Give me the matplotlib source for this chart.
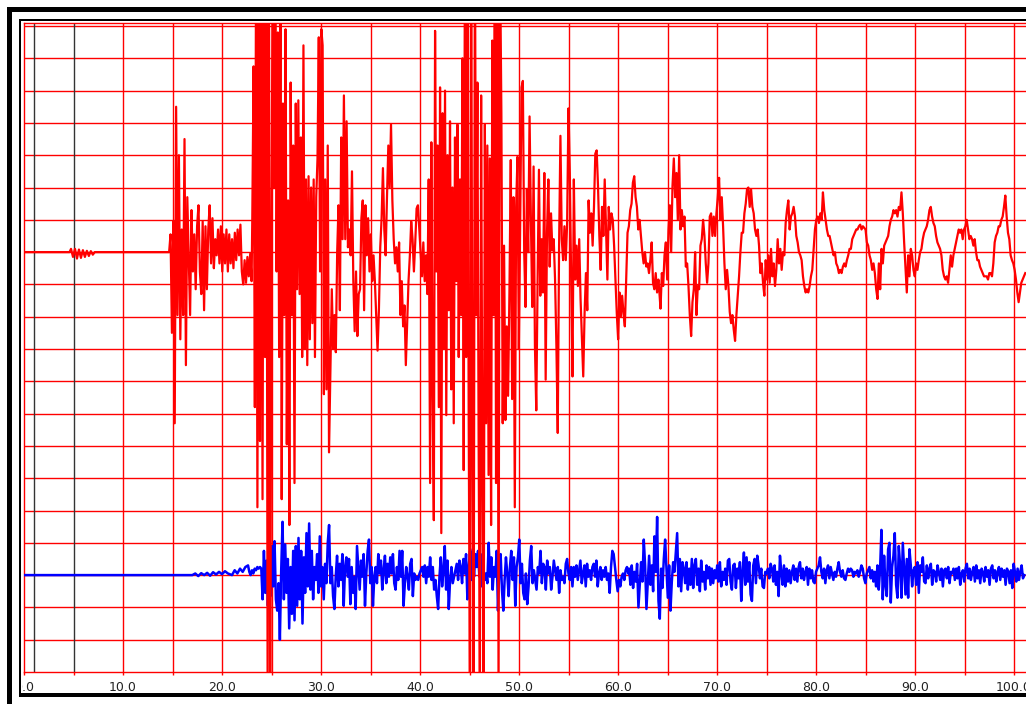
import numpy as np
import matplotlib
matplotlib.use("Agg")
import matplotlib.pyplot as plt
from matplotlib.patches import Rectangle
from matplotlib.ticker import FormatStrFormatter
from matplotlib.transforms import Bbox, TransformedBbox

W, H = 1026, 704

# Two seismograph channels, amplitudes in grid divisions around each baseline.
# Quiet lead-in given as (time, value) pairs, then evenly sampled blocks.
red_quiet_t = [0, 4.6, 4.75, 4.95, 5.15, 5.35, 5.55, 5.75, 5.95, 6.15, 6.35, 6.55, 6.75, 6.95, 7.15, 14.55]
red_quiet_v = [0, 0, .1, -.15, .1, -.2, .08, -.18, .06, -.15, .04, -.12, .03, -.08, 0, 0]

red_a = [0, .55, -2.5, .95, -5.3, 4.5, -1.95, 3.0, -2.7, .7,
         -1.95, 3.5, -3.5, 1.7, -.1, -1.95, 1.3, -.6, .55, -1.15,
         .8, 1.45, -.6, -1.3, .95, -1.8, .8, -1.15, .7, 1.45,
         -.35, 1.05, -.5, .4, -.1, .7, -.35, .8, -.6, .55,
         -.35, .7, -.6, .55, -.35, .4, -.5, .6, -.25, .7,
         -.1, .85, -.6, -1.0, -.25, -.95, -.15, -.75, -.05, -.9]
red_b = [1.05, 5.75, -4.8, 10, -7.9, 10, -5.85, 10, -7.65, 10,
         -3.25, 10, -14, 10, -14, -.1, 10, 2.0, 10, -.6,
         6.8, -3.25, 10, -7.65, 4.6, -1.95, 6.9, -5.95, 1.6, -8.45,
         5.25, -1.95, 3.3, -7.15, 4.6, -1.15, 4.7, -1.3, 3.55, -3.25,
         6.4, -3.0, 2.25, -3.5, 2.35, -2.7, 2.0, -2.2, 2.25, -3.25,
         1.7, 2.9, 6.65, -.6, 6.9, 6.4, -4.4, 2.25, -4.25, 3.3,
         -6.2]
red_c = [-1.15, -3.0, -1.95, -3.1, 0, 1.45, -1.8, 3.55, .4, 4.85,
         .4, 4.05, .15, .7, -.1, 2.5, -.9, -2.45, -.6, -2.6,
         -1.3, -1.15, 1.05, 1.6, -1.8, 1.45, -.1, 1.05, -.6, .55,
         -.9, -.1, -.9, -1.95, -3.05, -1.8, .15, 1.05, 2.6, .7,
         -.1, 1.7, 3.3, 2.0, 3.95, 1.6, .4, -.35, .15, -.6,
         .3, -1.95, -.9, -2.3, -1.65, -3.5, -2.2, -.9, -.1, .95,
         .4, -.6, .3, 1.35, 1.45, .7, -.1, -.75, .3, -.9,
         -.1, -1.3, 2.25]
red_d = [-7.15, 3.4, -4.25, -8.3, 6.85, -.6, 3.3, -4.8, 5.1, -8.7,
         4.3, -3.0, 5.0, -5.05, 3.0, -1.8, 4.05, -4.25, 2.0, -5.3,
         3.55, -.9, 3.95, -3.25, 2.25, -1.95, 6.0, -6.75, 10, -3.25,
         10, -5.05, -14, 10, -5.85, -14, 10, -1.95, 5.25, -5.85,
         -14, 4.85, -6.5, -14, 3.95, -5.3, 3.3, -6.9, 2.9, -8.45,
         6.55, -1.95, 10, -7.15, 10, -14, 10]
red_e = [4.3, -5.3, .2, -5.2, -2.3, -4.45, -1.25, 2.85, -4.55, 1.7,
         -7.9, 1.4, 2.95, -3.0, .8, 5.1, 5.3, 0, -1.7, 1.95,
         0, 4.2, 1.0, -1.7, 2.65, -2.9, -4.9, -.85, 2.55, -1.35,
         .4, -1.25, 2.45, -3.95, .6, 2.25, -.45, 1.2, .05, .4,
         -.85, -2.9, -5.6, .2, 3.6, .4, -.25, .8, -.25, .9,
         4.45, 2.45, -.85, -3.85, 2.25, -.85, .2, -1.05, .4, -1.45,
         -2.7, -3.85, -1.9, -.65, -1.8, 1.6, .6, 1.2, .2, 1.4,
         3.05, 3.15, 2.05, .5, -.55, 1.4, .5, 2.25, .7, -.85,
         1.4, .7, 1.2, 1.0, .2, -.85, -1.9, -2.7, -1.25, -2.0,
         -1.35, -1.9, -2.3, -.85, .6, .8, 1.3, 1.5, 2.15, 2.35,
         1.7, 1.4, .7, 1.0, .5, 0, -.35, 0, -.45, -.35,
         -.65, -.25, .3, -.95, -1.15, -.65, -1.25, -.85]
red_f = [-1.15, -1.75, -.65, -1.05, -.1, .3, -.85, .7, 1.45, 0,
         2.05, 2.9, 1.7, 2.45, 1.0, 3.0, .7, 1.3, .8, 1.1,
         -.45, -.35, -1.05, -1.95, -2.6, -1.55, -1.15, 0, -1.95, -1.05,
         -1.15, .2, .4, 1.0, .5, -.35, -.95, -.35, 1.1, 1.2,
         .5, 1.1, .5, 1.2, 1.7, 2.3, 1.0, 1.7, .8, -.35,
         -1.15, -.55, -1.05, -1.85, -2.2, -1.95, -2.4, -2.75, -1.95, -1.35,
         -.75, 0, .6, .6, 1.2, 1.5, 1.95, 2.0, 1.4, 1.95,
         1.4, 1.2, .7, .5, .7, .2, -.65, -.35, -.95, -1.35,
         -.25, -.85, -.1, -.95, .1, -.75, -.35, -1.05, -.55, .4,
         -.35, .1, -.55, 0, -.1, .9, 1.3, 1.6, .7, 1.1,
         1.2, 1.4, 1.1, .5, .3, 0, -.1, -.25, -.75, -1.05,
         -1.25, -1.15, -1.25, -1.05, -.75, -.55, .1, .7, 1.0, 1.1,
         .9, 1.2, 1.0, 1.85, 1.3, 1.0, .7, .5, .5, .3,
         .1, -.1, 0, -.35, -.45, -.65, -.55, -.65, -.45, -.35,
         -.45, -.25, -.1, .1, .1, .4, .5, .6, .7, .7,
         .8, .85, .7, .8, .75, .7, .3, .2, -.1, -.25,
         -.55, -.35, -.65, -1.15, -1.45, -.35, -1.15, .1, -.35, .2,
         .3, .4, .5, .8, 1.0, 1.1, 1.3, 1.2, 1.3, 1.1,
         1.4, 1.3, 1.85, 1.2, .3, -.45, -1.25, -.1, -.75, .1,
         -.1, -.55, -.75, -.35, -.55, -.25, 0, .1, .4, .6,
         .7, .8, 1.0, 1.3, 1.4, 1.1, .9, .8, .5, .3,
         .2, .1, -.1, -.55, -.75, -.85, -.75, -.95, -.55, -.1,
         -.45, -.1, .1, .3, .5, .7, .6, .7, .4, .7,
         .8, 1.0, .7, .4, .5, .4, .2, .4, 0, -.25,
         -.25, -.45, -.55, -.65, -.75, -.75, -.75, -.85, -.65, -.65,
         -.75, -.35, .3, .5, .6, .8, .8, 1.0, 1.1, 1.4,
         1.75, 1.1, .6, .4, -.1, -.25, -.35, -.55, -.85, -1.25,
         -1.55, -1.25, -.95, -.85, -.75, -.65]
red_spans = [(14.66, 22.99), (23.06, 30.81), (31.09, 40.88), (41.02, 48.06), (48.22, 64.08), (64.16, 101.14)]

blue_quiet_t = [0, 17.0, 17.3, 17.6, 17.9, 18.2, 18.5, 18.8, 19.1, 19.4, 19.7, 20.0, 20.3, 20.6,
                21.01, 21.28, 21.55, 21.82, 22.09, 22.36, 22.63, 22.76, 22.89, 23.03, 23.16,
                23.30, 23.43, 23.57, 23.70, 23.84, 23.97]
blue_quiet_v = [0, 0, .05, -.03, .06, 0, .07, -.02, .09, .02, .1, .03, .12, .05,
                0, .15, .05, .2, .1, .25, .3, .1, 0, .15, .05,
                .2, .15, .25, .2, .25, .2]

blue_a = [-.75, .75, -.55, .45, -.95, .25, -.65, .9, -.35, 1.05,
          -.75, -1.1, -.25, -2.0, .15, 1.65, -.75, .95, -.55, .5,
          -1.65,
          .25, -1.2, .75, -1.4, .9, -.95, 1.15, -.75, .75, -1.5,
          .55, -.55, 1.3, -.35, 1.6, -.45, .75, -.75, .25, -.15,
          .65, -.55, 1.2, -.35, .25, -.75, .35, -.25, 1.0, 1.55,
          -.25, .25, -.65, -1.05, -.05, .6, -.35, .35, -.15, .65,
          -.95, .25, .55, -.05, .5, -.9, .25, -.55, -.05, -1.05,
          .9, .25, -.45, .45, -.05, .65, -.95, .05, .75, 1.1,
          -.25, .25, -.95, -.05, .25, -.25, .65, .05, .45, -.45,
          .15, .6, -.25, .35, -.05, .55, .05, .65, -.25, -.45,
          .25, -.15, .75, -.05, .75, -.95, -.25, .25, -.05, -.45,
          .35, .5, -.65, .05, -.15, -.05, -.15, .05, .15, .25,
          -.05, .3, -.25, .25, -.05, .55, -.15, .25, -.45, -.15,
          -.65, -1.05, -.05, .55, -.35, .15, .9, -.45, .45, -1.05,
          -.15, .25, -.25, -.05, .15, .35, -.15, .45, .25, -.25,
          .5, .05, .65, -.75, .25, .75, -.15, .8, -.05, .65,
          .25, .75, -.05, .65, -.35, .25, -.15, .05, -.25, 1.0,
          -.05, .55, -.45, .25, -.05, .75, -1.1, .25, .65, -.45,
          -1.1, -.15, .55, .05, -.65, .25, .75, -.15, .55, -.95,
          .25, .55, 1.1, -.25, .35, -.55, -.75, .05, -.9, -.35,
          .45, .9, -.25, .15, -.15, -.45, .25, .05, .75, -.25,
          .35, .25, -.45, .45, .05, .25, -.45, -.05, .45, .15,
          -.15, .25, -.55, .15, -.15, -.05, -.25, .35, .5, .05,
          -.15, .25, -.35, .25, -.05, .3, -.15, .15, .45, -.25,
          .05, .3, -.35, .35, -.05, .15, -.15, .25, .35, -.05,
          .45, -.35, .05, .25, -.15, .15, -.05, .25, -.15, .05,
          -.55, .25, .75, .65, .25, -.15, -.5, -.15, -.35, -.05,
          .05, -.15, .15, .25, .05]
blue_b = [.2, -.3, .3, -.4, .1, -.2, .35, -1.0, -.3, .4,
          -.2, 1.1, .3, -1.05, -.2, .6, -.3, .3, -.5, 1.2,
          .1, 1.8, -.8, -1.35, .2, -.4, .5, 1.1, .2, -.7,
          .3, -1.1, -.2, .4, .1, .7, 1.3, -.35, .5, -.5,
          .4, .2, -.25, .4, -.45, .2, -.3, .5, -.4, .3,
          .5, -.3, .2, -.5, .45, -.2, .1, -.45, .3, -.1,
          .25, -.3, .2, -.25, .15, -.1, .3, -.2, .4, -.35,
          .1, -.15, .2, -.3, .45, .5, -.2, -.45, .3, .35,
          -.4, .2, -.1, .4, -.8, .1, .7, -.3, .55, -.2,
          .4, -.6, -.8, .3, .5, -.25, .6, .3, -.1, .2,
          -.35, -.4, .1, .05, .2, -.1, .35, .2, -.2, .3,
          -.3, .1, -.65, .6, .1, -.3, .3, -.35, .2, -.2,
          .15, -.25, .1, .3, -.15, .2, -.2, .25, .4, -.1,
          .2, -.15, .1, .25, -.3, .2, -.1, .15, -.2, -.25,
          .1, .2, .3, .55, .1, -.1, .2, -.25, .15, .3,
          -.1, .25, .05, -.15, .1, -.05, .2, .4, .1, -.05,
          .15, -.1, -.15, .05, .2, .1, .2, .15, -.05, .1,
          .05, .15, -.05, .1, .3, .2, -.1, -.25, .05, .15,
          .25, -.1, .15, -.2, .1, -.35, .3, -.45, .2, 1.4,
          -.75, .6, -.3, -.65, .8, 1.0, -.85, .25, .6, 1.3,
          -.3, -.7, .9, .3, -.7, 1.0, .2, -.6, .5, -.7,
          .8, .3, -.35, .15, .25, -.3, .4, -.55, .3, .1,
          .55, -.2, -.25, .3, -.1, .2, .35, -.3, .15, .1,
          -.2, .3, .1, -.15, .2, -.35, .15, .2, -.1, .25,
          -.25, .1, .05, .2, -.15, .2, -.1, .25, -.3, .05,
          .15, -.2, .2, .35, -.1, .2, -.15, .1, .25, -.2,
          .3, -.1, .15, -.25, .2, .1, -.2, .25, -.05, .15,
          -.3, .2, .3, -.1, .15, -.2, .1, .25, -.15, .2,
          -.05, .15, -.3, .2, .1, -.25, .15, -.4, .35, .1,
          -.2, .2, -.15, .1, .3, -.1, .0]
blue_spans = [(24.10, 61.04), (61.12, 101.04)]

red_base, blue_base = 13, 3
x_labels = np.arange(0, 101, 10)


def build_trace(quiet_t, quiet_v, blocks, spans):
    t = list(quiet_t)
    v = list(quiet_v)
    for vals, (t0, t1) in zip(blocks, spans):
        t.extend(np.linspace(t0, t1, len(vals)))
        v.extend(vals)
    return np.array(t), np.array(v)


red_t, red_v = build_trace(red_quiet_t, red_quiet_v,
                           [red_a, red_b, red_c, red_d, red_e, red_f], red_spans)
blue_t, blue_v = build_trace(blue_quiet_t, blue_quiet_v, [blue_a, blue_b], blue_spans)

fig = plt.figure(figsize=(W / 100, H / 100), dpi=100)
ax = fig.add_axes([24 / W, (H - 672) / H, (W - 24) / W, (672 - 22.5) / H])
ax.set_xlim(0, (W - 24) / 9.9)
ax.set_ylim(0, (672 - 22.5) / 32.3)

# grid: red divisions, plus the two dark marker lines near the start
ax.set_yticks(np.arange(1, 21))
ax.yaxis.grid(True, color="#ff0000", lw=1.0)
ax.set_axisbelow(True)
for xv in range(10, 101, 5):
    ax.axvline(xv, color="#ff0000", lw=1.0, zorder=1)
for xv in (1, 5):
    ax.axvline(xv, color="#333333", lw=1.0, zorder=1)

ax.plot(blue_t, blue_base + blue_v, color="#0000ff", lw=1.8, zorder=3)
ax.plot(red_t, red_base + red_v, color="#ff0000", lw=1.6, zorder=4)

for side in ("left", "top", "bottom"):
    ax.spines[side].set_color("#ff0000")
    ax.spines[side].set_linewidth(1.0)
ax.spines["right"].set_visible(False)

ax.set_xticks(x_labels)
ax.set_xticks(np.arange(5, 101, 10), minor=True)
ax.xaxis.set_major_formatter(FormatStrFormatter("%.1f"))
ax.tick_params(axis="x", which="both", direction="out", length=2.5, width=1.0,
               color="#ff0000", labelsize=9, labelcolor="#222222", pad=4)
ax.tick_params(axis="y", left=False, labelleft=False)

# the 0.0 label runs under the window frame on the left
first = ax.xaxis.get_major_ticks()[0].label1
first.set_clip_box(TransformedBbox(Bbox([[22 / W, 0], [1, 1]]), fig.transFigure))
first.set_clip_on(True)


def frame_bar(x0, y0, x1, y1):
    fig.add_artist(Rectangle((x0 / W, 1 - y1 / H), (x1 - x0) / W, (y1 - y0) / H,
                             transform=fig.transFigure, color="black", lw=0))


frame_bar(7, 7, 12.3, H)
frame_bar(7, 7, W, 12.3)
frame_bar(19.3, 19.3, 20.7, 697.3)
frame_bar(19.3, 19.3, W, 20.7)
frame_bar(19.3, 693.3, W, 697.3)

fig.savefig("out.png", dpi=100)
